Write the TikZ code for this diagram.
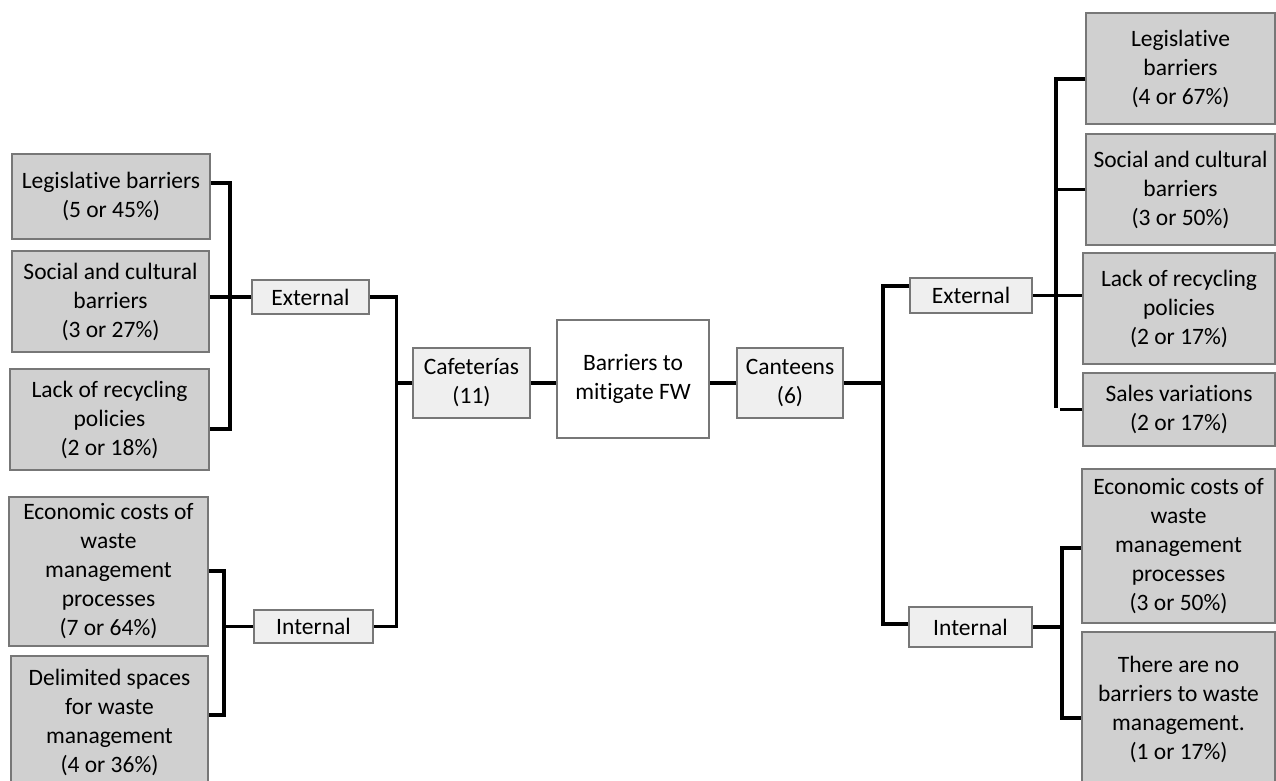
\documentclass[tikz,border=0pt]{standalone}
\usepackage{fontspec}
\setmainfont{Carlito}[Ligatures=CommonOff]
\definecolor{boxgrey}{HTML}{D0D0D0}
\definecolor{boxlight}{HTML}{EFEFEF}
\definecolor{edgegrey}{HTML}{777777}
\begin{document}
\begin{tikzpicture}[x=1pt,y=-1pt,
  base/.style={draw=edgegrey, line width=1.5pt, align=center, inner sep=0pt,
    font=\fontsize{23.5}{29}\selectfont, text=black},
  catbox/.style={base, fill=boxgrey},
  levelbox/.style={base, fill=boxlight},
  rootbox/.style={base, fill=white},
  wh/.style 2 args={minimum width=#1pt, minimum height=#2pt},
  link/.style={line width=3.2pt, black}]
\useasboundingbox (0,0) rectangle (1276,781);

% ---- left branch: cafeterias ----
\node[catbox, wh={198}{85}]  (L1) at (111,196.5) {Legislative barriers\\(5 or 45\%)};
\node[catbox, wh={197}{101}] (L2) at (110.5,301.5) {Social and cultural\\barriers\\(3 or 27\%)};
\node[catbox, wh={199}{101}] (L3) at (109.5,419.5) {Lack of recycling\\policies\\(2 or 18\%)};
\node[catbox, wh={199}{149}] (L4) at (108.5,571.5) {Economic costs of\\waste\\management\\processes\\(7 or 64\%)};
\node[catbox, wh={197}{132}] (L5) at (109.5,722) {Delimited spaces\\for waste\\management\\(4 or 36\%)};
\node[levelbox, wh={117}{34}] (ExtL) at (310.5,297) {External};
\node[levelbox, wh={119}{33}] (IntL) at (313.5,626.5) {Internal};
\node[levelbox, wh={117}{70}] (Caf) at (471.5,383) {Cafeterías\\(11)};

% ---- root ----
\node[rootbox, wh={152}{118}] (Ctr) at (633,379) {Barriers to\\mitigate FW};

% ---- right branch: canteens ----
\node[levelbox, wh={106}{70}] (Can) at (790,383) {Canteens\\(6)};
\node[levelbox, wh={122}{35}] (ExtR) at (971,295.5) {External};
\node[levelbox, wh={123}{40}] (IntR) at (970.5,627) {Internal};
\node[catbox, wh={189}{111}] (R1) at (1180.5,68.5) {Legislative\\barriers\\(4 or 67\%)};
\node[catbox, wh={189}{111}] (R2) at (1180.5,189.5) {Social and cultural\\barriers\\(3 or 50\%)};
\node[catbox, wh={192}{111}] (R3) at (1179,308.5) {Lack of recycling\\policies\\(2 or 17\%)};
\node[catbox, wh={192}{73}]  (R4) at (1179,409.5) {Sales variations\\(2 or 17\%)};
\node[catbox, wh={193}{154}] (R5) at (1178.5,546) {Economic costs of\\waste\\management\\processes\\(3 or 50\%)};
\node[catbox, wh={193}{155}] (R6) at (1178.5,709.5) {There are no\\barriers to waste\\management.\\(1 or 17\%)};

% ---- bracket spines ----
\coordinate (sLa) at (230,183);
\coordinate (sLb) at (230,429);
\coordinate (sIa) at (224,571);
\coordinate (sIb) at (224,715);
\coordinate (sCb) at (396.5,626.5);
\coordinate (sRa) at (883,286);
\coordinate (sRb) at (883,624);
\coordinate (sEa) at (1056,79);
\coordinate (sEb) at (1056,408);
\coordinate (sEc) at (1060,409);
\coordinate (sNa) at (1062,548);
\coordinate (sNb) at (1062,718);

% left external group
\draw[link] (L1.east |- sLa) -- (sLa) -- (sLb) -- (L3.east |- sLb);
\draw[link] (ExtL.west) -- (ExtL.west -| L2.east);
% left internal group
\draw[link] (L4.east |- sIa) -- (sIa) -- (sIb) -- (L5.east |- sIb);
\draw[link] (IntL.west) -- (IntL.west -| sIa);
% cafeterias
\draw[link] (ExtL.east) -| (sCb) -- (IntL.east);
\draw[link] (Caf.west) -- (Caf.west -| sCb);
\draw[link] (Caf.east) -- (Caf.east -| Ctr.west);
% canteens
\draw[link] (Can.west) -- (Can.west -| Ctr.east);
\draw[link] (Can.east) -- (Can.east -| sRa);
\draw[link] (ExtR.west |- sRa) -- (sRa) -- (sRb) -- (IntR.west |- sRb);
% right external group
\draw[link] (ExtR.east) -- (ExtR.east -| R3.west);
\draw[link] (R1.west |- sEa) -- (sEa) -- (sEb);
\draw[link] (R2.west) -- (R2.west -| sEa);
\draw[link] (R4.west) -- (R4.west -| sEc);
% right internal group
\draw[link] (IntR.east) -- (IntR.east -| sNa);
\draw[link] (R5.west |- sNa) -- (sNa) -- (sNb) -- (R6.west |- sNb);
\end{tikzpicture}
\end{document}
